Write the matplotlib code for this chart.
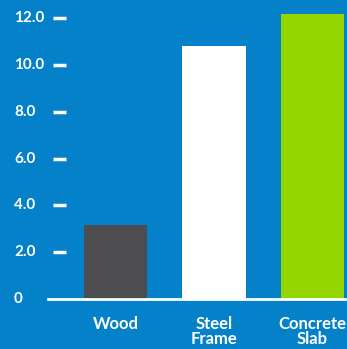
import numpy as np
import matplotlib.pyplot as plt
from matplotlib import transforms

plt.rcParams['font.family'] = ['Lato', 'DejaVu Sans']
plt.rcParams['font.weight'] = 'bold'

# data
categories = ['Wood', 'Steel\nFrame', 'Concrete\nSlab']
values = [3.15, 10.8, 12.2]
bar_colors = ['#4d4d4f', '#ffffff', '#95d600']
y_ticks = [0, 2, 4, 6, 8, 10, 12]
y_labels = ['0', '2.0', '4.0', '6.0', '8.0', '10.0', '12.0']

bg = '#0581c9'

fig = plt.figure(figsize=(3.47, 3.49), dpi=100, facecolor=bg)
ax = fig.add_axes([48 / 347, 50 / 349, 297 / 347, 299 / 349])
ax.set_facecolor(bg)

x = np.arange(len(categories))
ax.bar(x, values, width=0.64, color=bar_colors, zorder=2)

ax.set_xlim(-0.685, 2.33)
ax.set_ylim(0, 12.78)

for side in ['top', 'right', 'left']:
    ax.spines[side].set_visible(False)
ax.spines['bottom'].set_color('white')
ax.spines['bottom'].set_linewidth(2)
ax.spines['bottom'].set_zorder(3)

ax.set_xticks(x)
ax.set_xticklabels(categories, color='white', fontsize=12, fontweight='bold',
                   linespacing=0.95)
ax.tick_params(axis='x', length=0, pad=12)

# y ticks drawn as floating dashes, labels left-aligned at the image edge
ax.set_yticks([])
trans = transforms.blended_transform_factory(ax.transAxes, ax.transData)
tick_y = [t for t in y_ticks if t > 0]
ax.hlines(tick_y, 5 / 297, 18 / 297, transform=trans, color='white',
          linewidth=2.5, clip_on=False)
for t, lab in zip(y_ticks, y_labels):
    ax.text(-34 / 297, t, lab, transform=trans, color='white', fontsize=11,
            fontweight='bold', ha='left', va='center', clip_on=False)

fig.savefig('out.png', dpi=100, facecolor=bg)
